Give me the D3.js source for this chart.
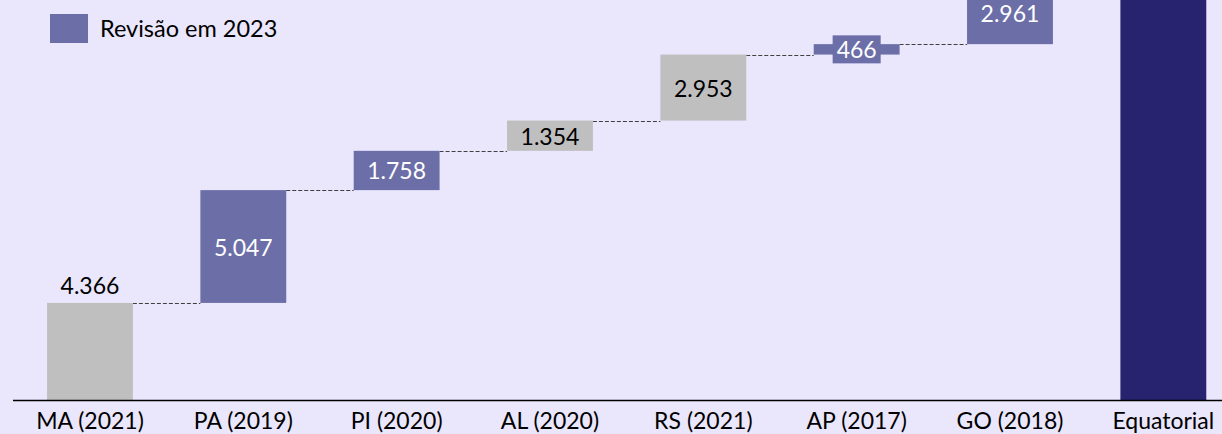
<!DOCTYPE html>
<html><head><meta charset="utf-8">
<script src="https://cdn.jsdelivr.net/npm/d3@7"></script>
<style>html,body{margin:0;padding:0;background:#EAE6FC;overflow:hidden}</style>
</head><body>
<svg id="c" width="1222" height="434"></svg>
<script>
const categories = ["MA (2021)","PA (2019)","PI (2020)","AL (2020)","RS (2021)","AP (2017)","GO (2018)","Equatorial"];
const values = [4366, 5047, 1758, 1354, 2953, 466, 2961];
const revised = [false, true, true, false, false, true, true];
const valueLabels = ["4.366","5.047","1.758","1.354","2.953","466","2.961"];
const legendLabel = "Revisão em 2023";

const W = 1222, H = 434;
const svg = d3.select("#c");
svg.append("rect").attr("width", W).attr("height", H).attr("fill", "#EAE6FC");

const FONT = "Lato, 'Open Sans', sans-serif";
const COL_GRAY = "#BFBFBF", COL_PURPLE = "#6C6EA8", COL_TOTAL = "#27236E";

const x = d3.scaleBand().domain(categories).range([13.3, 1240]).padding(0);
const barW = x.bandwidth() * 0.56;
const bx = c => x(c) + (x.bandwidth() - barW) / 2;
const y = d3.scaleLinear().domain([0, 20000]).range([400.5, 400.5 - 20000 * 0.02235]);

let cum = 0;
const bars = values.map((v, i) => {
  const b = { cat: categories[i], start: cum, end: cum + v, v, rev: revised[i], label: valueLabels[i] };
  cum += v; return b;
});
const total = cum;

const g = svg.append("g");
bars.forEach((b, i) => {
  const nextCat = categories[i + 1];
  g.append("line")
    .attr("x1", bx(b.cat) + barW).attr("x2", bx(nextCat))
    .attr("y1", Math.round(y(b.end)) + 0.5).attr("y2", Math.round(y(b.end)) + 0.5)
    .attr("stroke", "#404040").attr("stroke-width", 1).attr("stroke-dasharray", "4,2");
});
g.selectAll("rect.bar").data(bars).join("rect")
  .attr("x", d => bx(d.cat)).attr("width", barW)
  .attr("y", d => y(d.end)).attr("height", d => y(d.start) - y(d.end))
  .attr("fill", d => d.rev ? COL_PURPLE : COL_GRAY);
g.append("rect").attr("x", bx(categories[7])).attr("width", barW)
  .attr("y", y(total)).attr("height", y(0) - y(total)).attr("fill", COL_TOTAL);

bars.forEach((b, i) => {
  const cx = bx(b.cat) + barW / 2;
  const h = y(b.start) - y(b.end);
  let cy, color;
  if (i === 0) { cy = y(b.end) - 18; color = "#000"; }
  else { cy = Math.max((y(b.start) + y(b.end)) / 2, 13); color = b.rev ? "#fff" : "#000"; }
  const t = g.append("text").attr("x", cx).attr("y", cy)
    .attr("text-anchor", "middle").attr("dominant-baseline", "central")
    .attr("font-family", FONT).attr("font-size", 23).attr("fill", color).text(b.label);
  if (h < 30 && i !== 0) {
    const bb = t.node().getBBox();
    g.insert("rect", () => t.node())
      .attr("x", bb.x - 4).attr("width", bb.width + 8)
      .attr("y", cy - 14).attr("height", 28).attr("fill", b.rev ? COL_PURPLE : COL_GRAY);
  }
});

const ax = svg.append("g").attr("transform", `translate(0,${400.5})`)
  .call(d3.axisBottom(x).tickSize(0).tickPadding(12));
ax.select(".domain").attr("d", "M13,0H1222").attr("stroke", "#000").attr("stroke-width", 1.3);
ax.selectAll("text").attr("font-family", FONT).attr("font-size", 23).attr("fill", "#000");

svg.append("rect").attr("x", 50).attr("y", 14).attr("width", 38).attr("height", 29).attr("fill", COL_PURPLE);
svg.append("text").attr("x", 100).attr("y", 37).attr("font-family", FONT).attr("font-size", 23.5)
  .attr("fill", "#000").text(legendLabel);
</script>
</body></html>
